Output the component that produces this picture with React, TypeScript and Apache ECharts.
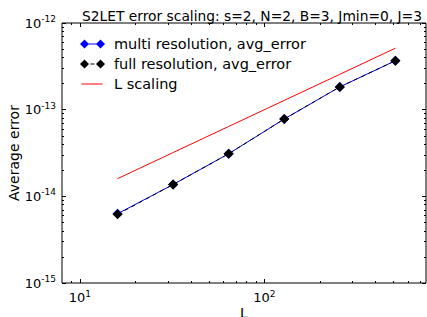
import React, { useEffect, useRef } from "react";
import * as echarts from "echarts";

// ---- data ----
const Lvalues = [16, 32, 64, 128, 256, 512];
const multiResError = [6.3e-15, 1.37e-14, 3.1e-14, 7.8e-14, 1.83e-13, 3.67e-13];
const fullResError = [6.2e-15, 1.37e-14, 3.1e-14, 7.8e-14, 1.83e-13, 3.67e-13];
const lScaling = [1.6e-14, 3.2e-14, 6.4e-14, 1.28e-13, 2.56e-13, 5.12e-13];

const xMajorTicks = [10, 100];
const xMinorTicks = [9, 20, 30, 40, 50, 60, 70, 80, 90, 200, 300, 400, 500, 600, 700];
const yMajorTicks = [1e-15, 1e-14, 1e-13, 1e-12];
const yMinorTicks = [
  2e-15, 3e-15, 4e-15, 5e-15, 6e-15, 7e-15, 8e-15, 9e-15,
  2e-14, 3e-14, 4e-14, 5e-14, 6e-14, 7e-14, 8e-14, 9e-14,
  2e-13, 3e-13, 4e-13, 5e-13, 6e-13, 7e-13, 8e-13, 9e-13,
];

const FONT = "DejaVu Sans";

const pairs = (ys: number[]) => Lvalues.map((x, i) => [x, ys[i]]);

const anchors = "M0,0L0.01,0Z M25,10L24.99,10Z ";
const iconMulti =
  "path://" + anchors + "M0,5L4.5,0.5L9,5L4.5,9.5Z M16,5L20.5,0.5L25,5L20.5,9.5Z M8,4.5L17,4.5L17,5.5L8,5.5Z";
const iconFull =
  "path://" + anchors + "M0,5L4.5,0.5L9,5L4.5,9.5Z M16,5L20.5,0.5L25,5L20.5,9.5Z M10.5,4.5L14.5,4.5L14.5,5.5L10.5,5.5Z";
const iconL = "path://" + anchors + "M1.5,4.5L22.5,4.5L22.5,5.5L1.5,5.5Z";

const supFormatter = (v: number) => {
  const e = Math.round(Math.log10(v));
  return "10{sup|" + (e < 0 ? "-" + Math.abs(e) : String(e)) + "}";
};

const richLabel = {
  fontFamily: FONT,
  fontSize: 13,
  color: "#000",
  rich: {
    sup: { fontFamily: FONT, fontSize: 9, color: "#000", padding: [0, 0, 8, 0] },
  },
};

function xAxisDef(pos: "bottom" | "top", ticks: number[], len: number, labels: boolean, name?: string) {
  return {
    type: "log",
    logBase: 10,
    position: pos,
    min: 8,
    max: 750,
    name: name || "",
    nameLocation: "middle",
    nameGap: 23,
    nameMoveOverlap: false,
    nameTextStyle: { fontFamily: FONT, fontSize: 14, color: "#000" },
    axisLine: { show: false },
    splitLine: { show: false },
    axisTick: { show: true, inside: true, length: len, customValues: ticks, lineStyle: { color: "#000", width: 1 } },
    axisLabel: labels
      ? { show: true, customValues: xMajorTicks, formatter: supFormatter, margin: 6, ...richLabel }
      : { show: false },
  };
}

function yAxisDef(pos: "left" | "right", ticks: number[], len: number, labels: boolean, name?: string) {
  return {
    type: "log",
    logBase: 10,
    position: pos,
    min: 1e-15,
    max: 1e-12,
    name: name || "",
    nameLocation: "middle",
    nameGap: 41,
    nameMoveOverlap: false,
    nameTextStyle: { fontFamily: FONT, fontSize: 14, color: "#000" },
    axisLine: { show: false },
    splitLine: { show: false },
    axisTick: { show: true, inside: true, length: len, customValues: ticks, lineStyle: { color: "#000", width: 1 } },
    axisLabel: labels
      ? { show: true, customValues: yMajorTicks, formatter: supFormatter, margin: 6, ...richLabel }
      : { show: false },
  };
}

export default function App() {
  const ref = useRef<HTMLDivElement>(null);
  useEffect(() => {
    if (!ref.current) return;
    const chart = echarts.init(ref.current, null, { renderer: "svg" });
    chart.setOption({
      animation: false,
      backgroundColor: "#fff",
      title: {
        text: "S2LET error scaling: s=2, N=2, B=3, Jmin=0, J=3",
        left: 247,
        top: 4,
        textAlign: "center",
        textStyle: { fontFamily: FONT, fontSize: 13.8, fontWeight: "normal", color: "#000" },
      },
      legend: {
        orient: "vertical",
        left: 75,
        top: 31,
        itemWidth: 25,
        itemHeight: 10,
        itemGap: 4,
        textStyle: { fontFamily: FONT, fontSize: 14.5, color: "#000", lineHeight: 16, padding: [0, 0, 0, 4] },
        data: [
          { name: "multi resolution, avg_error", icon: iconMulti },
          { name: "full resolution, avg_error", icon: iconFull },
          { name: "L scaling", icon: iconL },
        ],
      },
      grid: {
        left: 62,
        top: 23,
        right: 1,
        bottom: 34,
        show: true,
        borderColor: "#000",
        borderWidth: 1,
        backgroundColor: "transparent",
        outerBoundsMode: "none",
        containLabel: false,
      },
      xAxis: [
        xAxisDef("bottom", xMajorTicks, 4, true, "L"),
        xAxisDef("bottom", xMinorTicks, 2, false),
        xAxisDef("top", xMajorTicks, 4, false),
        xAxisDef("top", xMinorTicks, 2, false),
      ],
      yAxis: [
        yAxisDef("left", yMajorTicks, 4, true, "Average error"),
        yAxisDef("left", yMinorTicks, 2, false),
        yAxisDef("right", yMajorTicks, 4, false),
        yAxisDef("right", yMinorTicks, 2, false),
      ],
      series: [
        {
          name: "L scaling",
          type: "line",
          data: pairs(lScaling),
          showSymbol: false,
          symbol: "none",
          lineStyle: { color: "#ff0000", width: 1 },
          itemStyle: { color: "#ff0000" },
          z: 2,
        },
        {
          name: "multi resolution, avg_error",
          type: "line",
          data: pairs(multiResError),
          symbol: "diamond",
          symbolSize: 10,
          lineStyle: { color: "#0000ff", width: 1 },
          itemStyle: { color: "#0000ff" },
          z: 3,
        },
        {
          name: "full resolution, avg_error",
          type: "line",
          data: pairs(fullResError),
          symbol: "diamond",
          symbolSize: 10,
          lineStyle: { color: "#000", width: 1, type: [4, 4] },
          itemStyle: { color: "#000" },
          z: 4,
        },
      ],
    });
    return () => chart.dispose();
  }, []);
  return (
    <div
      ref={ref}
      style={{ position: "fixed", left: 0, top: 0, width: 427, height: 317 }}
    />
  );
}
